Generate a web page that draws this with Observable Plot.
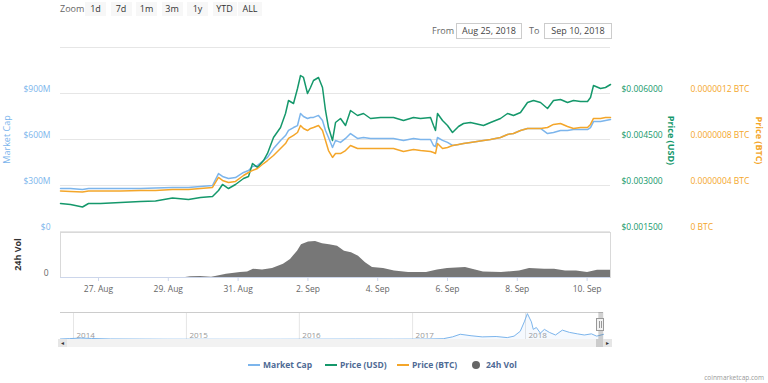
<!DOCTYPE html>
<html><head><meta charset="utf-8">
<script src="https://cdn.jsdelivr.net/npm/d3@7"></script>
<script src="https://cdn.jsdelivr.net/npm/@observablehq/plot@0.6"></script>
<style>
body{margin:0;background:#fff;font-family:"Open Sans",sans-serif;}
#chart{position:relative;width:768px;height:383px;overflow:hidden;background:#fff;}
.layer{position:absolute;left:0;top:0;}
.abs{position:absolute;white-space:nowrap;}
.btn{position:absolute;top:2px;height:14px;line-height:14px;background:#f7f7f7;color:#333;font-size:9px;text-align:center;}
.box{position:absolute;top:23px;height:14px;line-height:14px;border:1px solid #ccc;color:#444;font-size:9px;text-align:center;}
.title{position:absolute;white-space:nowrap;font-size:9px;transform-origin:center center;}
.leg{position:absolute;top:359px;height:12px;line-height:12px;font-size:8.5px;font-weight:bold;color:#4e6a94;}
</style></head><body><div id="chart"></div>
<script>
// ---- main series (Market Cap in $M, Price USD, Price BTC) ----
const times = [
"2018-08-25T21:52","2018-08-26T04:45","2018-08-26T13:00","2018-08-26T17:07","2018-08-27T01:23","2018-08-27T15:08","2018-08-28T04:53","2018-08-28T15:12","2018-08-29T02:53","2018-08-29T13:53",
"2018-08-29T22:08","2018-08-30T06:24","2018-08-30T10:31","2018-08-30T13:16","2018-08-30T17:24","2018-08-30T22:13","2018-08-31T03:43","2018-08-31T07:09","2018-08-31T09:54","2018-08-31T13:20",
"2018-08-31T17:28","2018-08-31T20:13","2018-09-01T00:20","2018-09-01T05:10","2018-09-01T08:36","2018-09-01T10:40","2018-09-01T14:06","2018-09-01T16:51","2018-09-01T18:55","2018-09-01T20:58",
"2018-09-01T23:44","2018-09-02T01:47","2018-09-02T03:51","2018-09-02T07:17","2018-09-02T10:02","2018-09-02T12:06","2018-09-02T14:10","2018-09-02T16:55","2018-09-02T18:59","2018-09-02T22:25",
"2018-09-03T01:52","2018-09-03T05:18","2018-09-03T10:07","2018-09-03T14:14","2018-09-03T19:03","2018-09-04T01:56","2018-09-04T10:52","2018-09-04T17:44","2018-09-05T00:37","2018-09-05T05:26",
"2018-09-05T12:19","2018-09-05T14:22","2018-09-05T15:45","2018-09-05T17:07","2018-09-05T20:34","2018-09-06T00:00","2018-09-06T03:26","2018-09-06T07:34","2018-09-06T11:00","2018-09-06T15:49",
"2018-09-07T00:45","2018-09-07T05:34","2018-09-07T12:27","2018-09-07T17:16","2018-09-07T21:23","2018-09-08T02:12","2018-09-08T07:01","2018-09-08T11:08","2018-09-08T15:57","2018-09-08T20:46",
"2018-09-09T00:53","2018-09-09T05:43","2018-09-09T10:31","2018-09-09T14:39","2018-09-09T19:28","2018-09-10T00:17","2018-09-10T02:20","2018-09-10T04:24","2018-09-10T09:13","2018-09-10T12:39",
"2018-09-10T16:05"];
const marketCap = [
280,280,274,280,280,280,280,284,287,287,
294,300,378,359,346,352,385,398,424,431,
463,483,541,594,626,659,678,691,770,750,
737,744,744,757,724,659,613,548,594,581,
607,639,607,613,607,607,607,594,607,600,
600,561,554,613,594,581,561,567,574,581,
594,600,613,633,639,659,672,672,672,639,
646,659,659,665,665,665,678,717,717,724,
731];
const priceUSD = [
0.002413,0.002380,0.002299,0.002413,0.002413,0.002446,0.002478,0.002495,0.002592,0.002544,
0.002609,0.002641,0.002837,0.003033,0.002902,0.003033,0.003228,0.003294,0.003717,0.003587,
0.003815,0.004044,0.004565,0.004891,0.005348,0.005772,0.005674,0.006163,0.006587,0.006522,
0.006000,0.006196,0.006424,0.006522,0.006196,0.005446,0.004891,0.004468,0.005054,0.005185,
0.004957,0.005446,0.005283,0.005348,0.005185,0.005218,0.005218,0.005120,0.005218,0.005185,
0.005218,0.004957,0.004794,0.005348,0.005120,0.004957,0.004728,0.004924,0.005022,0.005054,
0.004957,0.005054,0.005185,0.005348,0.005283,0.005381,0.005707,0.005772,0.005707,0.005511,
0.005772,0.005805,0.005707,0.005772,0.005739,0.005739,0.005870,0.006261,0.006163,0.006196,
0.006294];
const priceBTC = [
3.52e-7,3.48e-7,3.44e-7,3.52e-7,3.52e-7,3.52e-7,3.57e-7,3.57e-7,3.65e-7,3.65e-7,
3.74e-7,3.83e-7,4.70e-7,4.44e-7,4.26e-7,4.35e-7,4.87e-7,5.13e-7,5.31e-7,5.48e-7,
5.91e-7,6.17e-7,6.61e-7,7.22e-7,7.65e-7,8.09e-7,8.35e-7,8.61e-7,9.22e-7,8.96e-7,
8.78e-7,8.96e-7,9.04e-7,9.22e-7,8.78e-7,7.91e-7,7.04e-7,6.44e-7,6.78e-7,6.78e-7,
7.04e-7,7.48e-7,7.22e-7,7.22e-7,7.22e-7,7.22e-7,7.22e-7,6.96e-7,7.13e-7,7.04e-7,
6.96e-7,6.87e-7,6.78e-7,7.65e-7,7.22e-7,7.31e-7,7.48e-7,7.57e-7,7.65e-7,7.74e-7,
7.91e-7,8.00e-7,8.17e-7,8.44e-7,8.52e-7,8.78e-7,8.96e-7,8.96e-7,8.96e-7,9.04e-7,
9.31e-7,9.39e-7,9.13e-7,8.96e-7,9.04e-7,9.04e-7,9.31e-7,9.83e-7,9.83e-7,9.91e-7,
9.91e-7];

// ---- 24h volume ($M) ----
const volTimes = ["2018-08-25T21:52","2018-08-29T11:50","2018-08-29T15:16","2018-08-29T22:08","2018-08-30T05:43","2018-08-30T08:28","2018-08-30T16:01","2018-08-31T01:39","2018-08-31T06:28","2018-08-31T10:35",
"2018-08-31T16:47","2018-08-31T23:40","2018-09-01T07:13","2018-09-01T12:02","2018-09-01T16:51","2018-09-01T19:36","2018-09-02T00:25","2018-09-02T05:14","2018-09-02T10:02","2018-09-02T14:51",
"2018-09-02T20:22","2018-09-03T01:10","2018-09-03T05:59","2018-09-03T10:48","2018-09-03T15:37","2018-09-03T20:25","2018-09-04T03:59","2018-09-04T11:33","2018-09-04T21:11","2018-09-05T09:34",
"2018-09-05T17:07","2018-09-06T00:00","2018-09-06T12:23","2018-09-06T17:11","2018-09-07T00:45","2018-09-07T13:08","2018-09-08T01:31","2018-09-08T08:23","2018-09-08T18:43","2018-09-09T01:35",
"2018-09-09T09:09","2018-09-09T16:43","2018-09-10T00:17","2018-09-10T07:09","2018-09-10T14:43","2018-09-10T16:05"];
const volume = [0,0,6,8,2,8,29,44,50,73,
67,79,117,161,234,292,315,321,300,292,
277,234,219,190,131,88,79,58,44,44,
67,79,88,73,50,44,58,79,73,73,
58,58,44,64,64,64];

// ---- navigator (market cap history, $M) ----
const navDates = ["2013-11-20","2013-12-20","2014-01-25","2014-03-01","2014-05-01","2014-08-01","2014-11-01","2015-03-01","2015-07-01","2015-11-01",
"2016-03-01","2016-07-01","2016-11-01","2017-02-01","2017-04-10","2017-05-10","2017-06-04","2017-07-09","2017-08-14","2017-09-28",
"2017-11-03","2017-11-25","2017-12-15","2017-12-28","2018-01-07","2018-01-20","2018-01-26","2018-02-05","2018-02-18","2018-03-03",
"2018-03-19","2018-04-08","2018-04-30","2018-05-23","2018-06-18","2018-07-10","2018-08-02","2018-08-19","2018-09-10"];
const navCap = [40,70,110,80,40,30,20,18,15,18,
25,30,25,30,60,204,408,292,204,233,
146,262,641,1370,2012,1370,787,933,496,787,
554,350,729,554,438,350,438,262,400];
const navYears = ["2014","2015","2016","2017","2018"];

// ---- ticks ----
const capTicks = [0,300,600,900];
const capTickLabels = ["$0","$300M","$600M","$900M"];
const gridTicks = [0,300,600,900,1200];
const usdTicks = [0.0015,0.003,0.0045,0.006];
const usdTickLabels = ["$0.001500","$0.003000","$0.004500","$0.006000"];
const btcTicks = [0,4e-7,8e-7,1.2e-6];
const btcTickLabels = ["0 BTC","0.0000004 BTC","0.0000008 BTC","0.0000012 BTC"];
const dateTicks = ["2018-08-27T00:00","2018-08-29T00:00","2018-08-31T00:00","2018-09-02T00:00","2018-09-04T00:00","2018-09-06T00:00","2018-09-08T00:00","2018-09-10T00:00"];
const dateTickLabels = ["27. Aug","29. Aug","31. Aug","2. Sep","4. Sep","6. Sep","8. Sep","10. Sep"];
const seriesNames = ["Market Cap","Price (USD)","Price (BTC)","24h Vol"];
const zoomButtons = ["1d","7d","1m","3m","1y","YTD","ALL"];
const rangeFrom = "Aug 25, 2018", rangeTo = "Sep 10, 2018";

const C_CAP="#7cb5ec", C_USD="#15986b", C_BTC="#f4a62a", C_VOL="#777777";

const chart = document.getElementById("chart");
const P = s => new Date(s);
const dates = times.map(P);
const xDomain = [P(times[0]), P(times[times.length-1])];
const style = {background:"transparent", overflow:"visible", fontFamily:'"Open Sans", sans-serif'};
const base = {width:768, marginLeft:60, marginRight:158, style};

function add(svg){ svg.classList.add("layer"); chart.appendChild(svg); }
function fmt(ticks, labels){ const m = new Map(ticks.map((t,i)=>[+t, labels[i]])); return d => m.get(+d); }

// Main panel: market cap
add(Plot.plot({...base, height:240, marginTop:47, marginBottom:9,
  x:{type:"time", domain:xDomain, axis:null},
  y:{domain:[0,1200], axis:null},
  marks:[
    Plot.gridY(gridTicks, {stroke:"#e6e6e6", strokeOpacity:1}),
    Plot.axisY(capTicks, {anchor:"left", tickSize:0, tickPadding:10, tickFormat:fmt(capTicks,capTickLabels), fill:C_CAP, fontSize:8.5, dy:-4, label:null}),
    Plot.lineY(marketCap, {x:dates, stroke:C_CAP, strokeWidth:1.5})
  ]}));
// Price USD
add(Plot.plot({...base, height:240, marginTop:47, marginBottom:9,
  x:{type:"time", domain:xDomain, axis:null},
  y:{domain:[0.0015,0.0075], axis:null},
  marks:[
    Plot.axisY(usdTicks, {anchor:"right", tickSize:0, tickPadding:11, tickFormat:fmt(usdTicks,usdTickLabels), fill:C_USD, fontSize:8.5, dy:-4, label:null}),
    Plot.lineY(priceUSD, {x:dates, stroke:C_USD, strokeWidth:1.5})
  ]}));
// Price BTC
add(Plot.plot({...base, height:240, marginTop:47, marginBottom:9,
  x:{type:"time", domain:xDomain, axis:null},
  y:{domain:[0,1.6e-6], axis:null},
  marks:[
    Plot.axisY(btcTicks, {anchor:"right", tickSize:0, tickPadding:80, tickFormat:fmt(btcTicks,btcTickLabels), fill:C_BTC, fontSize:8.5, dy:-4, label:null}),
    Plot.lineY(priceBTC, {x:dates, stroke:C_BTC, strokeWidth:1.5})
  ]}));
// Volume panel
add(Plot.plot({...base, height:300, marginTop:232, marginBottom:23,
  x:{type:"time", domain:xDomain, axis:null},
  y:{domain:[0,400], axis:null},
  marks:[
    Plot.areaY(volume, {x:volTimes.map(P), fill:C_VOL}),
    Plot.frame({stroke:"#d9d9d9"}),
    Plot.ruleY([0], {stroke:"#ccd6eb"}),
    Plot.axisY([0], {anchor:"left", tickSize:0, tickPadding:12, tickFormat:()=>"0", fill:"#666", fontSize:8.5, dy:-4, label:null}),
    Plot.axisX(dateTicks.map(P), {anchor:"bottom", tickSize:4, tickPadding:4, stroke:"#ccd6eb", fill:"#666", fontSize:8.5, tickFormat:fmt(dateTicks.map(P), dateTickLabels), label:null})
  ]}));
// Navigator
const navD = navDates.map(P);
add(Plot.plot({width:768, height:345, marginTop:312, marginBottom:6, marginLeft:60, marginRight:165, style,
  x:{type:"time", domain:[P("2013-11-20"), P("2018-09-10")], axis:null},
  y:{domain:[0,2100], axis:null},
  marks:[
    Plot.ruleX(navYears.map(y=>P(y+"-01-01")), {stroke:"#e6e6e6"}),
    Plot.ruleY([2100], {stroke:"#cccccc"}),
    Plot.text(navYears, {x:y=>P(y+"-01-01"), frameAnchor:"bottom", textAnchor:"start", lineAnchor:"bottom", dx:3, dy:-2, fill:"#999", fontSize:8}),
    Plot.areaY(navCap, {x:navD, fill:C_CAP, fillOpacity:0.08}),
    Plot.lineY(navCap, {x:navD, stroke:C_CAP, strokeWidth:1}),
    Plot.rect([0], {x1:()=>xDomain[0], x2:()=>xDomain[1], y1:()=>0, y2:()=>2100, fill:"#666", fillOpacity:0.3})
  ]}));

// ---- HTML chrome: range selector, titles, legend, scrollbar ----
function div(cls, html, css){ const d=document.createElement("div"); d.className=cls; d.innerHTML=html; Object.assign(d.style, css||{}); chart.appendChild(d); return d; }
div("abs","Zoom",{left:"60px",top:"2px",height:"14px",lineHeight:"14px",fontSize:"9px",color:"#666"});
zoomButtons.forEach((b,i)=>div("btn",b,{left:(85+i*25.5)+"px",width:(b.length>2?24:21)+"px"}));
div("abs","From",{left:"432px",top:"24px",height:"14px",lineHeight:"14px",fontSize:"9px",color:"#666"});
div("box",rangeFrom,{left:"456px",width:"64px"});
div("abs","To",{left:"529px",top:"24px",height:"14px",lineHeight:"14px",fontSize:"9px",color:"#666"});
div("box",rangeTo,{left:"544px",width:"66px"});

function title(text, cx, cy, rot, css){
  const d = div("title", text, css);
  const w = d.offsetWidth, h = d.offsetHeight;
  d.style.left = (cx - w/2)+"px"; d.style.top = (cy - h/2)+"px";
  d.style.transform = `rotate(${rot}deg)`;
}
title("Market Cap", 6, 139, -90, {color:C_CAP});
title("24h Vol", 17, 254, -90, {color:"#333", fontWeight:"bold"});
title("Price (USD)", 671, 140, 90, {color:C_USD, fontWeight:"bold"});
title("Price (BTC)", 760, 140, 90, {color:C_BTC, fontWeight:"bold"});

// legend
const legX = [248, 325, 397, 472];
const legC = [C_CAP, C_USD, C_BTC, "#666"];
seriesNames.forEach((n,i)=>{
  if (i<3) div("abs","",{left:legX[i]+"px",top:"364px",width:"12px",height:"2px",background:legC[i]});
  else div("abs","",{left:legX[i]+"px",top:"361px",width:"8px",height:"8px",borderRadius:"50%",background:legC[i]});
  div("leg", n, {left:(legX[i] + (i<3?15:14))+"px"});
});
// scrollbar + navigator handle
div("abs","",{left:"58px",top:"339px",width:"554px",height:"8px",background:"#f2f2f2"});
div("abs","&#9666;",{left:"58px",top:"339px",width:"9px",height:"8px",background:"#e6e6e6",fontSize:"6px",lineHeight:"8px",textAlign:"center",color:"#333"});
div("abs","&#9656;",{left:"603px",top:"339px",width:"9px",height:"8px",background:"#e6e6e6",fontSize:"6px",lineHeight:"8px",textAlign:"center",color:"#333"});
div("abs","",{left:"596px",top:"339px",width:"7px",height:"8px",background:"#ccc"});
div("abs","",{left:"596px",top:"318px",width:"8px",height:"13px",background:"#f2f2f2",border:"1px solid #999",boxSizing:"border-box"});
div("abs","",{left:"599px",top:"321px",width:"1px",height:"7px",background:"#999"});
div("abs","",{left:"601px",top:"321px",width:"1px",height:"7px",background:"#999"});
div("abs","coinmarketcap.com",{right:"4px",top:"373px",fontSize:"6.5px",lineHeight:"9px",color:"#999"});
</script></body></html>
